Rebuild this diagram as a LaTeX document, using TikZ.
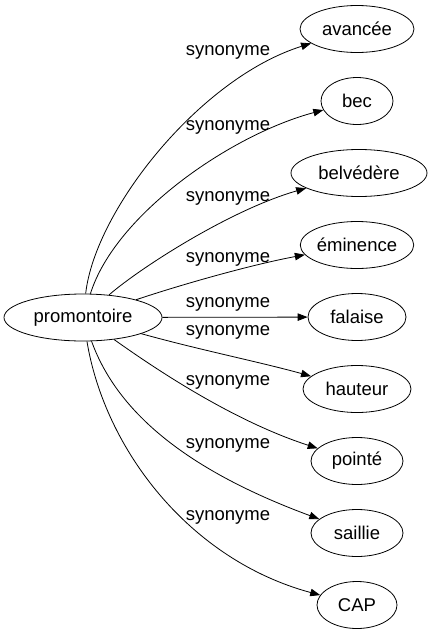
\documentclass[tikz,border=0pt]{standalone}
\usepackage{fontspec}
\setmainfont{Liberation Sans}
\usetikzlibrary{arrows.meta,shapes.geometric}
\begin{document}
\begin{tikzpicture}[x=1pt,y=-1pt,
  every node/.style={font=\fontsize{18.5}{20}\selectfont},
  term/.style={draw,ellipse,inner sep=0pt,minimum height=47pt,line width=0.8pt},
  lbl/.style={inner sep=0pt},
  syn/.style={draw,line width=0.8pt,-{Triangle[length=10pt,width=7.5pt]}}]
\useasboundingbox (0,0) rectangle (433,635);
\node[term,minimum width=158pt] (P) at (83,317.5) {promontoire};
\node[term,minimum width=114pt] (a) at (357,29) {avancée};
\node[term,minimum width=72pt] (b) at (357,101) {bec};
\node[term,minimum width=136pt] (c) at (359,173) {belvédère};
\node[term,minimum width=112pt] (d) at (357,245) {éminence};
\node[term,minimum width=98pt] (e) at (357,317) {falaise};
\node[term,minimum width=108pt] (f) at (357,389) {hauteur};
\node[term,minimum width=92pt] (g) at (357,461) {pointé};
\node[term,minimum width=92pt] (h) at (357,533) {saillie};
\node[term,minimum width=80pt] (i) at (357,605) {CAP};
\draw[syn] (P) .. controls (95,210) and (200,78) .. (a);
\draw[syn] (P) .. controls (115,215) and (230,135) .. (b);
\draw[syn] (P) .. controls (140,268) and (230,210) .. (c);
\draw[syn] (P) .. controls (180,285) and (250,265) .. (d);
\draw[syn] (P) -- (e);
\draw[syn] (P) .. controls (200,350) and (260,362) .. (f);
\draw[syn] (P) .. controls (150,365) and (230,420) .. (g);
\draw[syn] (P) .. controls (120,420) and (200,475) .. (h);
\draw[syn] (P) .. controls (105,450) and (190,560) .. (i);
\node[lbl] (l1) at (228,52) {synonyme};
\node[lbl] (l2) at (228,127) {synonyme};
\node[lbl] (l3) at (228,198) {synonyme};
\node[lbl] (l4) at (228,259) {synonyme};
\node[lbl] (l5) at (228,304) {synonyme};
\node[lbl] (l6) at (228,332) {synonyme};
\node[lbl] (l7) at (228,382) {synonyme};
\node[lbl] (l8) at (228,445) {synonyme};
\node[lbl] (l9) at (228,517) {synonyme};
\end{tikzpicture}
\end{document}
